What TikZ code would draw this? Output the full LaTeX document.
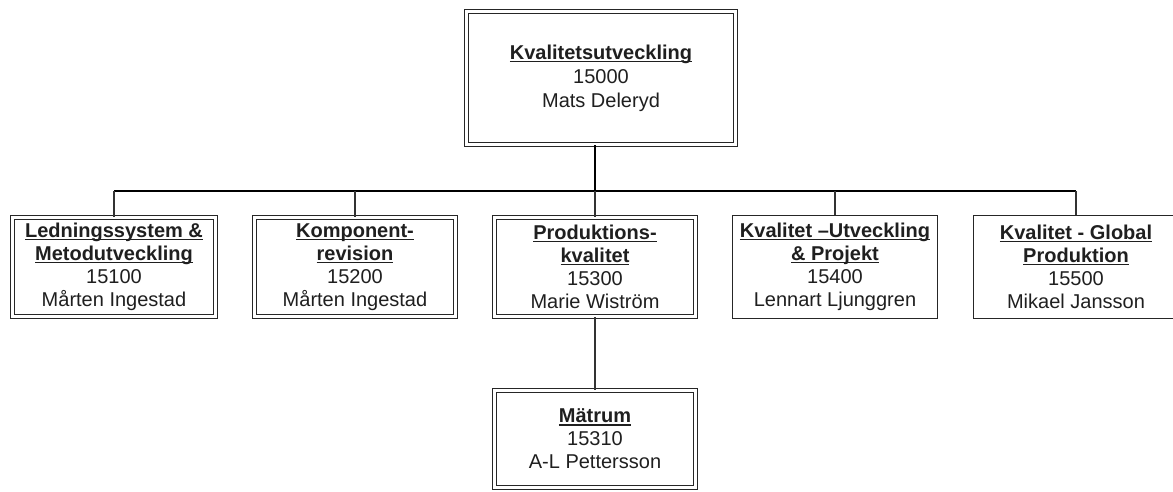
\documentclass[tikz,border=0pt]{standalone}
\usepackage{fontspec}
\setmainfont{Liberation Sans}
% bold, underlined unit title
\newcommand\ultitle[1]{\setbox0=\hbox{\bfseries #1}\rlap{\rule[-2.8pt]{\wd0}{1.3pt}}\box0}
\begin{document}
\begin{tikzpicture}[x=1pt,y=-1pt,
  unit/.style={rectangle, draw=black!85, line width=1.1pt, fill=white,
    inner sep=0pt, align=center, text=black!88,
    font=\fontsize{20}{23}\selectfont},
  single/.style={unit, minimum width=205pt, minimum height=103pt},
  dbl/.style={unit, double=white, double distance=2.6pt},
  rowdbl/.style={dbl, minimum width=201.2pt, minimum height=99.2pt},
  link/.style={draw=black!80, line width=1.3pt},
  trunk/.style={draw=black, line width=2pt}]
\clip (0,0) rectangle (1173,491);
\fill[white] (0,0) rectangle (1173,491);

% head of the department
\node[dbl, minimum width=269.2pt, minimum height=133.2pt,
      font=\fontsize{20}{24}\selectfont] (top) at (601,78)
  {\ultitle{Kvalitetsutveckling}\\15000\\Mats Deleryd};

% units
\node[rowdbl, minimum width=203.2pt] (led) at (114,267)
  {\ultitle{Ledningssystem \&}\\\ultitle{Metodutveckling}\\15100\\Mårten Ingestad};
\node[rowdbl] (komp) at (355,267)
  {\ultitle{Komponent-}\\\ultitle{revision}\\15200\\Mårten Ingestad};
\node[rowdbl] (prod) at (595,267)
  {\ultitle{Produktions-}\\\ultitle{kvalitet}\\15300\\Marie Wiström};
\node[single] (kutv) at (835,267)
  {\ultitle{Kvalitet –Utveckling}\\\ultitle{\& Projekt}\\15400\\Lennart Ljunggren};
\node[single] (glob) at (1076,267)
  {\ultitle{Kvalitet - Global}\\\ultitle{Produktion}\\15500\\Mikael Jansson};

% sub-unit
\node[dbl, minimum width=201.2pt, minimum height=97.2pt] (mat) at (595,439)
  {\ultitle{Mätrum}\\15310\\A-L Pettersson};

% connectors
\coordinate (bus) at (0,191);
\draw[trunk] (prod.north |- top.south) -- (prod.north |- bus);
\draw[link, draw=black] (led.north |- bus) -- (glob.north |- bus);
\foreach \n in {led,komp,prod,kutv,glob}
  \draw[link] (\n.north) -- (\n.north |- bus);
\draw[link] (prod.south) -- (mat.north);
\end{tikzpicture}
\end{document}
